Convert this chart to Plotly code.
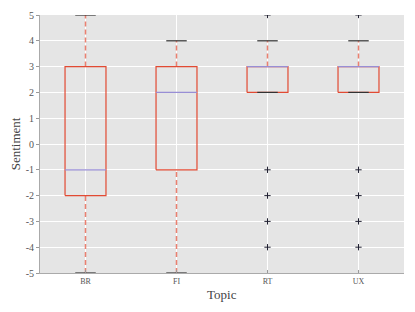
import plotly.graph_objects as go

topics = ["BR", "FI", "RT", "UX"]
lower_whisker = [-5, -5, 2, 2]
q1 = [-2, -1, 2, 2]
median = [-1, 2, 3, 3]
q3 = [3, 3, 3, 3]
upper_whisker = [5, 4, 4, 4]
rt_outliers = [5, -1, -2, -3, -4]
ux_outliers = [5, -1, -2, -3, -4]
y_ticks = [-5, -4, -3, -2, -1, 0, 1, 2, 3, 4, 5]
y_tick_labels = [str(v) for v in y_ticks]

positions = list(range(1, len(topics) + 1))
box_w = 0.45
cap_w = box_w / 2

bx, by, mx, my, wx, wy, cx, cy = [], [], [], [], [], [], [], []
for p, a, b, m, c, d in zip(positions, lower_whisker, q1, median, q3, upper_whisker):
    l, r = p - box_w / 2, p + box_w / 2
    bx += [l, r, r, l, l, None]
    by += [b, b, c, c, b, None]
    mx += [l, r, None]
    my += [m, m, None]
    wx += [p, p, None, p, p, None]
    wy += [a, b, None, c, d, None]
    cx += [p - cap_w / 2, p + cap_w / 2, None, p - cap_w / 2, p + cap_w / 2, None]
    cy += [a, a, None, d, d, None]

fx = [positions[2]] * len(rt_outliers) + [positions[3]] * len(ux_outliers)
fy = rt_outliers + ux_outliers

fig = go.Figure()
fig.add_trace(go.Scatter(x=wx, y=wy, mode="lines", hoverinfo="skip",
                         line=dict(color="rgba(226,74,51,0.7)", width=1.5, dash="5px,3px")))
fig.add_trace(go.Scatter(x=bx, y=by, mode="lines", hoverinfo="skip",
                         line=dict(color="#E24A33", width=1.2)))
fig.add_trace(go.Scatter(x=cx, y=cy, mode="lines", hoverinfo="skip",
                         line=dict(color="#333333", width=1.2)))
fig.add_trace(go.Scatter(x=mx, y=my, mode="lines", hoverinfo="skip",
                         line=dict(color="#988ED5", width=1.2)))
fig.add_trace(go.Scatter(x=fx, y=fy, mode="markers", hoverinfo="skip",
                         marker=dict(symbol="cross-thin", size=4.5,
                                     line=dict(color="#222233", width=1))))

serif = "Liberation Serif, DejaVu Serif, serif"
fig.update_layout(
    width=415, height=312,
    margin=dict(l=40, r=11, t=15, b=39),
    paper_bgcolor="white", plot_bgcolor="#E5E5E5",
    showlegend=False,
    font=dict(family=serif, color="#555555"),
    annotations=[
        dict(text="Topic", xref="paper", yref="paper", x=0.5, y=-0.048,
             xanchor="center", yanchor="top", showarrow=False,
             font=dict(size=13, color="#444444", family=serif)),
        dict(text="Sentiment", xref="paper", yref="paper", x=-0.068, y=0.5,
             xanchor="center", yanchor="middle", textangle=-90, showarrow=False,
             font=dict(size=13, color="#444444", family=serif)),
    ],
)
fig.update_xaxes(
    range=[0.5, 4.5], tickvals=positions, ticktext=topics, automargin=False,
    tickfont=dict(size=8, color="#555555", family=serif),
    showgrid=True, gridcolor="white", gridwidth=1,
    zeroline=False, showline=True, linecolor="#AAAAAA", linewidth=1,
    ticks="inside", ticklen=3, tickcolor="#999999",
)
fig.update_yaxes(
    range=[-5, 5], tickvals=y_ticks, ticktext=y_tick_labels, automargin=False,
    tickfont=dict(size=10, color="#555555", family=serif),
    showgrid=True, gridcolor="white", gridwidth=1,
    zeroline=False, showline=True, linecolor="#AAAAAA", linewidth=1,
    ticks="outside", ticklen=3, tickcolor="#999999",
)
fig.write_html("out.html", config={"displayModeBar": False},
               post_script="document.body.style.margin='0';")
